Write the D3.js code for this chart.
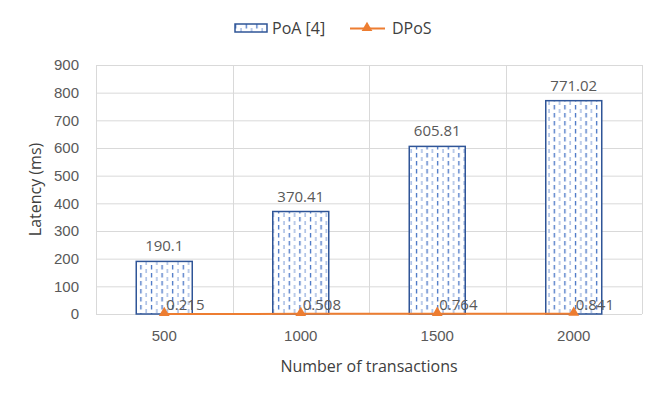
<!DOCTYPE html>
<head>
  <meta charset="utf-8">
  <script src="https://cdn.jsdelivr.net/npm/d3@7"></script>
  <style>
    body { margin: 0; background: #fff; font-family: "Open Sans", "Noto Sans", Arial; }
    svg { display: block; }
    .tick text { fill: #595959; font-size: 15px; }
    .lbl { fill: #595959; font-size: 15px; }
  </style>
</head>
<body>
  <div id="chart"></div>
  <script>
  var categories = ["500", "1000", "1500", "2000"]
    , poa = [190.1, 370.41, 605.81, 771.02]
    , dpos = [0.215, 0.508, 0.764, 0.841]
    , yTicks = [0, 100, 200, 300, 400, 500, 600, 700, 800, 900]

  var width = 661, height = 398
    , margin = {top: 65, right: 19, bottom: 84, left: 96}
    , w = width - margin.left - margin.right
    , h = height - margin.top - margin.bottom

  var svg = d3.select("#chart").append("svg")
      .attr("width", width)
      .attr("height", height)

  // dashed vertical fill, like the excel pattern
  var defs = svg.append("defs")
  var pat = defs.append("pattern")
      .attr("id", "dash")
      .attr("patternUnits", "userSpaceOnUse")
      .attr("width", 10.6).attr("height", 8)
  pat.append("rect").attr("width", 10.6).attr("height", 8).attr("fill", "#fff")
  pat.append("line").attr("x1", 2.5).attr("x2", 2.5).attr("y1", 0).attr("y2", 4.5)
      .attr("stroke", "#4472c4").attr("stroke-width", 1.3)
  pat.append("line").attr("x1", 7.8).attr("x2", 7.8).attr("y1", 4).attr("y2", 8)
      .attr("stroke", "#8faadc").attr("stroke-width", 1.2)

  var g = svg.append("g")
      .attr("transform", "translate(" + margin.left + "," + margin.top + ")")

  var x = d3.scaleBand().domain(categories).range([0, w])
  var y = d3.scaleLinear().domain([0, 900]).range([h, 0])

  // grid
  g.selectAll(".hgrid").data(yTicks).enter().append("line")
      .attr("x1", 0).attr("x2", w)
      .attr("y1", function(d) { return y(d) + 0.5 }).attr("y2", function(d) { return y(d) + 0.5 })
      .attr("stroke", "#d9d9d9")
  var bounds = categories.map(function(c) { return x(c) }).concat([w])
  g.selectAll(".vgrid").data(bounds).enter().append("line")
      .attr("x1", function(d) { return Math.round(d) + 0.5 }).attr("x2", function(d) { return Math.round(d) + 0.5 })
      .attr("y1", 0).attr("y2", h)
      .attr("stroke", "#d9d9d9")

  var yAxis = g.append("g").call(d3.axisLeft(y).tickValues(yTicks).tickSize(0).tickPadding(17))
  yAxis.select(".domain").remove()

  var xAxis = g.append("g").attr("transform", "translate(0," + h + ")")
      .call(d3.axisBottom(x).tickSize(0).tickPadding(16))
  xAxis.select(".domain").remove()

  var bw = 56
  g.selectAll(".bar").data(poa).enter().append("rect")
      .attr("x", function(d, i) { return x(categories[i]) + x.bandwidth() / 2 - bw / 2 })
      .attr("y", function(d) { return y(d) })
      .attr("width", bw)
      .attr("height", function(d) { return h - y(d) })
      .attr("fill", "url(#dash)")
      .attr("stroke", "#2f5597").attr("stroke-width", 1.5)

  g.selectAll(".barlbl").data(poa).enter().append("text")
      .attr("class", "lbl")
      .attr("x", function(d, i) { return x(categories[i]) + x.bandwidth() / 2 })
      .attr("y", function(d) { return y(d) - 10 })
      .attr("text-anchor", "middle")
      .text(function(d) { return d })

  var line = d3.line()
      .x(function(d, i) { return x(categories[i]) + x.bandwidth() / 2 })
      .y(function(d) { return y(d) })
  g.append("path").datum(dpos)
      .attr("d", line)
      .attr("fill", "none").attr("stroke", "#ed7d31").attr("stroke-width", 2)
  g.selectAll(".mk").data(dpos).enter().append("path")
      .attr("d", d3.symbol(d3.symbolTriangle, 50))
      .attr("transform", function(d, i) { return "translate(" + (x(categories[i]) + x.bandwidth() / 2) + "," + (y(d) - 1) + ")" })
      .attr("fill", "#ed7d31")
  g.selectAll(".dlbl").data(dpos).enter().append("text")
      .attr("class", "lbl")
      .attr("x", function(d, i) { return x(categories[i]) + x.bandwidth() / 2 + 2 })
      .attr("y", function(d) { return y(d) - 9 })
      .attr("dy", "0.35em")
      .text(function(d) { return d })

  // axis titles
  svg.append("text")
      .attr("x", margin.left + w / 2).attr("y", 372)
      .attr("text-anchor", "middle")
      .attr("fill", "#404040").style("font-size", "16px")
      .text("Number of transactions")
  svg.append("text")
      .attr("transform", "translate(41," + (margin.top + h / 2) + ") rotate(-90)")
      .attr("text-anchor", "middle")
      .attr("fill", "#404040").style("font-size", "16px")
      .text("Latency (ms)")

  // legend
  var leg = svg.append("g")
  leg.append("rect").attr("x", 235).attr("y", 24).attr("width", 32).attr("height", 8)
      .attr("fill", "url(#dash)").attr("stroke", "#2f5597").attr("stroke-width", 1.5)
  leg.append("text").attr("x", 272).attr("y", 28).attr("dy", "0.35em")
      .attr("fill", "#404040").style("font-size", "16px").text("PoA [4]")
  leg.append("line").attr("x1", 350).attr("x2", 385).attr("y1", 28.5).attr("y2", 28.5)
      .attr("stroke", "#ed7d31").attr("stroke-width", 2)
  leg.append("path").attr("d", d3.symbol(d3.symbolTriangle, 50))
      .attr("transform", "translate(367,28)").attr("fill", "#ed7d31")
  leg.append("text").attr("x", 392).attr("y", 28).attr("dy", "0.35em")
      .attr("fill", "#404040").style("font-size", "16px").text("DPoS")
  </script>
</body>
